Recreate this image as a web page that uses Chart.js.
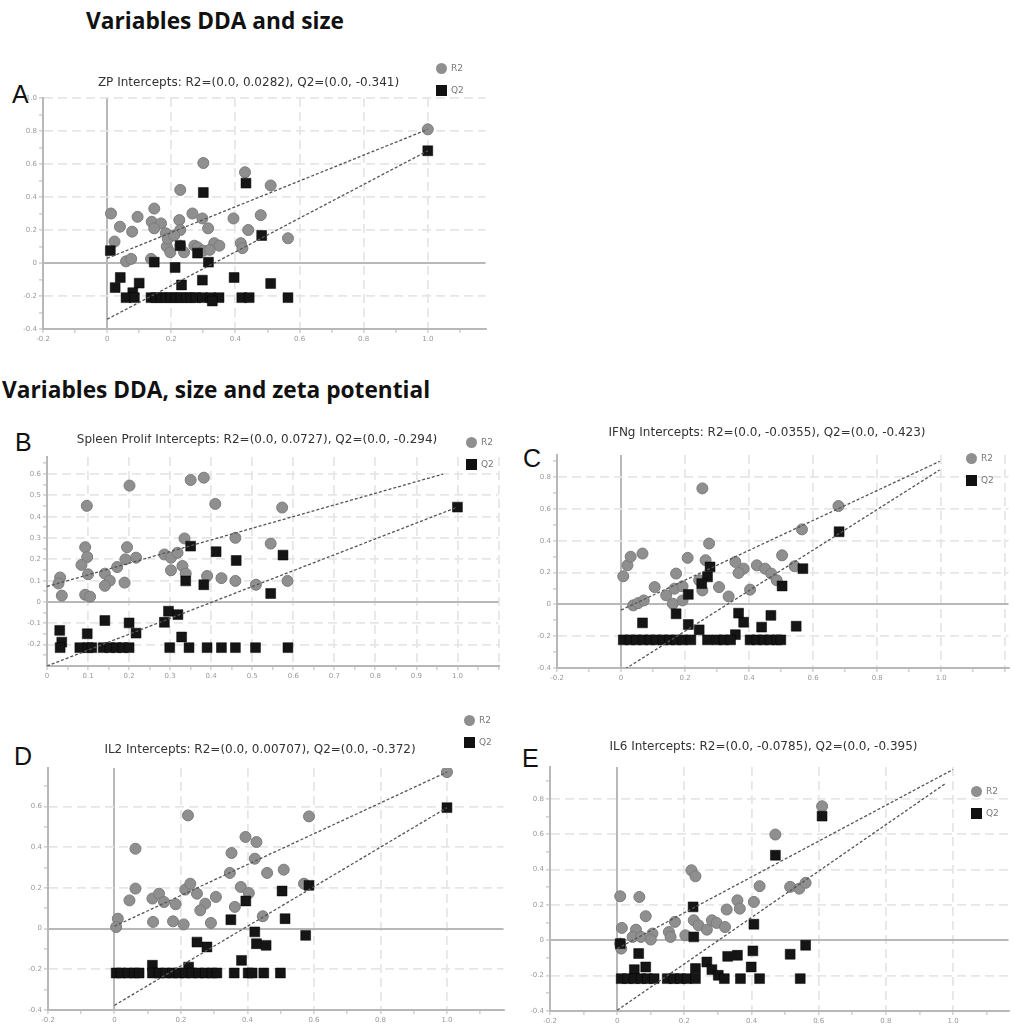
<!DOCTYPE html>
<html>
<head>
<meta charset="utf-8">
<script src="https://cdn.jsdelivr.net/npm/chart.js@4.4.0/dist/chart.umd.min.js"></script>
<style>
  body { margin: 0; width: 1016px; height: 1032px; position: relative; overflow: hidden; background: #fff; font-family: 'DejaVu Sans', sans-serif; }
  .section { position: absolute; font-family: 'Open Sans', sans-serif; font-weight: 700; font-size: 22.7px; color: #111; white-space: nowrap; line-height: 1.2; }
  .letter { position: absolute; font-family: 'Liberation Sans', sans-serif; font-size: 25px; color: #111; line-height: 1; }
  .panel { position: absolute; }
  .legend { position: absolute; font-size: 9px; color: #777; }
  .legend div { height: 22px; line-height: 22px; white-space: nowrap; }
  .legend span { display: inline-block; width: 11px; height: 11px; vertical-align: middle; margin-right: 4px; }
  .legend .dot { border-radius: 50%; background: #8f8f8f; }
  .legend .sq { background: #111; }
</style>
</head>
<body>

<div class="section" style="left:86px; top:7px;">Variables DDA and size</div>
<div class="section" style="left:2px; top:376px;">Variables DDA, size and zeta potential</div>

<div class="letter" style="left:12px; top:82px;">A</div>
<div class="letter" style="left:15px; top:430px;">B</div>
<div class="letter" style="left:523px; top:446px;">C</div>
<div class="letter" style="left:14px; top:744px;">D</div>
<div class="letter" style="left:522px; top:746px;">E</div>

<canvas id="cA" class="panel" width="486" height="268" style="left:7px; top:77px;"></canvas>
<canvas id="cB" class="panel" width="495" height="248" style="left:11px; top:434px;"></canvas>
<canvas id="cC" class="panel" width="495" height="257" style="left:521px; top:427px;"></canvas>
<canvas id="cD" class="panel" width="499" height="282" style="left:12px; top:744px;"></canvas>
<canvas id="cE" class="panel" width="502" height="286" style="left:514px; top:741px;"></canvas>

<div class="legend" style="left:436px; top:57px;"><div><span class="dot"></span>R2</div><div><span class="sq"></span>Q2</div></div>
<div class="legend" style="left:466px; top:431px;"><div><span class="dot"></span>R2</div><div><span class="sq"></span>Q2</div></div>
<div class="legend" style="left:966px; top:447px;"><div><span class="dot"></span>R2</div><div><span class="sq"></span>Q2</div></div>
<div class="legend" style="left:464px; top:709px;"><div><span class="dot"></span>R2</div><div><span class="sq"></span>Q2</div></div>
<div class="legend" style="left:971px; top:780px;"><div><span class="dot"></span>R2</div><div><span class="sq"></span>Q2</div></div>

<script>
// --- data: [x, y] pairs ---
const aR2 = [[1.0,0.81],[0.30,0.606],[0.43,0.55],[0.51,0.47],[0.228,0.443],[0.012,0.30],[0.04,0.22],[0.078,0.19],[0.095,0.28],[0.147,0.33],[0.139,0.25],[0.168,0.24],[0.147,0.21],[0.183,0.18],[0.225,0.26],[0.228,0.20],[0.266,0.30],[0.297,0.27],[0.315,0.21],[0.394,0.27],[0.479,0.29],[0.44,0.20],[0.417,0.12],[0.422,0.09],[0.564,0.15],[0.023,0.13],[0.059,0.01],[0.075,0.025],[0.137,0.025],[0.186,0.10],[0.197,0.065],[0.228,0.105],[0.24,0.065],[0.272,0.105],[0.282,0.095],[0.334,0.12],[0.35,0.105],[0.30,0.075],[0.32,0.08],[0.189,0.147],[0.209,0.167]];
const aQ2 = [[1.0,0.68],[0.30,0.427],[0.433,0.484],[0.01,0.075],[0.228,0.105],[0.282,0.06],[0.147,0.005],[0.316,0.005],[0.212,-0.027],[0.482,0.167],[0.041,-0.088],[0.025,-0.149],[0.10,-0.122],[0.232,-0.133],[0.297,-0.104],[0.396,-0.088],[0.51,-0.124],[0.08,-0.18],[0.059,-0.21],[0.085,-0.21],[0.137,-0.21],[0.152,-0.21],[0.168,-0.21],[0.183,-0.21],[0.199,-0.21],[0.214,-0.21],[0.23,-0.21],[0.246,-0.21],[0.261,-0.21],[0.277,-0.21],[0.297,-0.21],[0.323,-0.21],[0.349,-0.21],[0.42,-0.21],[0.443,-0.21],[0.564,-0.21],[0.328,-0.23]];
const aR2Line = [[0,0.0282],[1,0.81]];
const aQ2Line = [[0,-0.341],[1,0.68]];

const bR2 = [[0.097,0.451],[0.201,0.546],[0.35,0.572],[0.382,0.583],[0.41,0.46],[0.573,0.443],[0.335,0.298],[0.459,0.301],[0.545,0.274],[0.093,0.257],[0.098,0.211],[0.195,0.257],[0.191,0.20],[0.217,0.208],[0.084,0.174],[0.10,0.13],[0.141,0.133],[0.153,0.10],[0.141,0.076],[0.171,0.164],[0.189,0.091],[0.032,0.115],[0.028,0.087],[0.036,0.03],[0.093,0.034],[0.105,0.025],[0.286,0.223],[0.302,0.208],[0.318,0.231],[0.302,0.149],[0.33,0.169],[0.338,0.133],[0.39,0.122],[0.425,0.112],[0.459,0.099],[0.509,0.081],[0.586,0.099]];
const bQ2 = [[1.0,0.445],[0.35,0.262],[0.412,0.236],[0.575,0.22],[0.461,0.195],[0.338,0.099],[0.382,0.081],[0.545,0.04],[0.296,-0.043],[0.319,-0.059],[0.286,-0.095],[0.141,-0.087],[0.2,-0.098],[0.217,-0.146],[0.031,-0.133],[0.098,-0.149],[0.328,-0.164],[0.036,-0.188],[0.032,-0.214],[0.08,-0.214],[0.10,-0.214],[0.109,-0.214],[0.137,-0.214],[0.153,-0.214],[0.169,-0.214],[0.185,-0.214],[0.2,-0.214],[0.299,-0.214],[0.346,-0.214],[0.39,-0.214],[0.425,-0.214],[0.459,-0.214],[0.508,-0.214],[0.587,-0.214]];
const bR2Line = [[0,0.0727],[0.965,0.6]];
const bQ2Line = [[0,-0.3],[1,0.445]];

const cR2 = [[0.254,0.73],[0.679,0.619],[0.565,0.472],[0.275,0.383],[0.007,0.177],[0.02,0.246],[0.03,0.30],[0.067,0.32],[0.208,0.293],[0.264,0.278],[0.357,0.267],[0.383,0.225],[0.367,0.198],[0.424,0.246],[0.45,0.225],[0.469,0.194],[0.503,0.309],[0.542,0.24],[0.172,0.194],[0.105,0.109],[0.141,0.057],[0.167,0.099],[0.192,0.114],[0.162,0.004],[0.192,0.025],[0.254,0.088],[0.306,0.109],[0.336,0.05],[0.403,0.093],[0.486,0.152],[0.038,-0.006],[0.053,0.008],[0.071,0.025],[0.244,0.152]];
const cQ2 = [[0.681,0.457],[0.568,0.225],[0.278,0.236],[0.27,0.173],[0.252,0.131],[0.21,0.063],[0.503,0.116],[0.172,-0.059],[0.367,-0.055],[0.383,-0.112],[0.468,-0.069],[0.439,-0.143],[0.547,-0.137],[0.067,-0.116],[0.21,-0.126],[0.244,-0.16],[0.357,-0.19],[0.007,-0.223],[0.028,-0.223],[0.048,-0.223],[0.069,-0.223],[0.09,-0.223],[0.11,-0.223],[0.131,-0.223],[0.151,-0.223],[0.172,-0.223],[0.192,-0.223],[0.218,-0.223],[0.27,-0.223],[0.30,-0.223],[0.321,-0.223],[0.342,-0.223],[0.403,-0.223],[0.424,-0.223],[0.445,-0.223],[0.465,-0.223],[0.486,-0.223],[0.499,-0.223]];
const cR2Line = [[0,-0.0355],[0.995,0.9]];
const cQ2Line = [[0,-0.423],[0.995,0.846]];

const dR2 = [[1.0,0.77],[0.221,0.557],[0.585,0.552],[0.063,0.393],[0.394,0.451],[0.427,0.426],[0.352,0.372],[0.422,0.344],[0.347,0.274],[0.459,0.274],[0.509,0.29],[0.063,0.197],[0.045,0.139],[0.114,0.148],[0.134,0.172],[0.149,0.131],[0.184,0.12],[0.213,0.192],[0.228,0.221],[0.248,0.172],[0.273,0.123],[0.258,0.09],[0.305,0.156],[0.38,0.205],[0.404,0.175],[0.362,0.107],[0.57,0.221],[0.446,0.061],[0.01,0.049],[0.005,0.008],[0.116,0.033],[0.176,0.036],[0.208,0.021],[0.29,0.028]];
const dQ2 = [[1.0,0.595],[0.585,0.213],[0.504,0.185],[0.395,0.136],[0.35,0.044],[0.513,0.049],[0.422,-0.016],[0.575,-0.033],[0.248,-0.066],[0.278,-0.09],[0.427,-0.074],[0.456,-0.082],[0.382,-0.156],[0.114,-0.18],[0.223,-0.189],[0.005,-0.218],[0.02,-0.218],[0.04,-0.218],[0.06,-0.218],[0.074,-0.218],[0.114,-0.218],[0.134,-0.218],[0.154,-0.218],[0.174,-0.218],[0.193,-0.218],[0.213,-0.218],[0.233,-0.218],[0.253,-0.218],[0.273,-0.218],[0.293,-0.218],[0.308,-0.218],[0.36,-0.218],[0.402,-0.218],[0.414,-0.218],[0.449,-0.218],[0.499,-0.218]];
const dR2Line = [[0,0.012],[1,0.77]];
const dQ2Line = [[0,-0.377],[1,0.595]];

const eR2 = [[0.61,0.758],[0.471,0.598],[0.221,0.396],[0.233,0.362],[0.009,0.249],[0.066,0.245],[0.085,0.136],[0.014,0.07],[0.056,0.06],[0.046,0.019],[0.071,0.019],[0.105,0.038],[0.1,0.004],[0.154,0.047],[0.159,0.019],[0.172,0.104],[0.203,0.028],[0.228,0.113],[0.242,0.085],[0.267,0.06],[0.282,0.113],[0.296,0.098],[0.321,0.075],[0.326,0.174],[0.358,0.226],[0.365,0.179],[0.407,0.217],[0.424,0.306],[0.515,0.302],[0.542,0.292],[0.561,0.325],[0.009,-0.019],[0.012,-0.047]];
const eQ2 = [[0.61,0.702],[0.471,0.481],[0.226,0.189],[0.407,0.091],[0.228,0.019],[0.009,-0.019],[0.561,-0.028],[0.515,-0.079],[0.064,-0.075],[0.404,-0.06],[0.329,-0.091],[0.358,-0.085],[0.267,-0.123],[0.085,-0.151],[0.051,-0.166],[0.233,-0.16],[0.282,-0.166],[0.399,-0.151],[0.301,-0.198],[0.012,-0.217],[0.031,-0.217],[0.051,-0.217],[0.071,-0.217],[0.09,-0.217],[0.11,-0.217],[0.149,-0.217],[0.169,-0.217],[0.188,-0.217],[0.208,-0.217],[0.233,-0.217],[0.319,-0.217],[0.367,-0.217],[0.424,-0.217],[0.545,-0.217]];
const eR2Line = [[0,-0.047],[1,0.966]];
const eQ2Line = [[0,-0.396],[0.98,0.89]];

// titles
const titleA = 'ZP Intercepts: R2=(0.0, 0.0282), Q2=(0.0, -0.341)';
const titleB = 'Spleen Prolif Intercepts: R2=(0.0, 0.0727), Q2=(0.0, -0.294)';
const titleC = 'IFNg Intercepts: R2=(0.0, -0.0355), Q2=(0.0, -0.423)';
const titleD = 'IL2 Intercepts: R2=(0.0, 0.00707), Q2=(0.0, -0.372)';
const titleE = 'IL6 Intercepts: R2=(0.0, -0.0785), Q2=(0.0, -0.395)';

const toXY = arr => arr.map(p => ({ x: p[0], y: p[1] }));
const isMajor = (v, step) => Math.abs(v / step - Math.round(v / step)) < 1e-6;

function axis(min, max, major, labelMax, isX) {
    return {
        type: 'linear',
        min: min,
        max: max,
        afterFit: s => { if (isX) s.height = 16; else s.width = 36; },
        ticks: {
            stepSize: major / 2,
            includeBounds: false,
            autoSkip: false,
            maxRotation: 0,
            padding: 2,
            color: '#999',
            font: { family: 'DejaVu Sans', size: 7 },
            callback: v => (isMajor(v, major) && v <= labelMax + 1e-6) ? (Math.abs(v) < 1e-9 ? '0' : v.toFixed(1)) : ''
        },
        grid: {
            color: ctx => {
                if (!ctx.tick) return '#e6e6e6';
                const v = ctx.tick.value;
                if (Math.abs(v) < 1e-9) return '#b8b8b8';
                return isMajor(v, major) ? '#e6e6e6' : 'rgba(0,0,0,0)';
            },
            lineWidth: ctx => (ctx.tick && Math.abs(ctx.tick.value) < 1e-9) ? 2 : 1.8,
            tickColor: '#b8b8b8',
            tickLength: 4,
            tickWidth: 1
        },
        border: {
            display: true,
            color: '#b8b8b8',
            width: 2,
            dash: ctx => (ctx.tick && Math.abs(ctx.tick.value) < 1e-9) ? [] : [9, 5]
        }
    };
}

function makePanel(id, title, gap, r2, q2, r2Line, q2Line, xr, yr) {
    const ctx = document.getElementById(id).getContext('2d');
    new Chart(ctx, {
        type: 'scatter',
        data: {
            datasets: [
                { label: 'R2 line', data: toXY(r2Line), showLine: true, pointRadius: 0, borderColor: '#555', borderWidth: 1.3, borderDash: [3, 2], order: 0 },
                { label: 'Q2 line', data: toXY(q2Line), showLine: true, pointRadius: 0, borderColor: '#555', borderWidth: 1.3, borderDash: [3, 2], order: 0 },
                { label: 'Q2', data: toXY(q2), pointStyle: 'rect', pointRadius: 7, backgroundColor: '#151515', borderColor: '#000', borderWidth: 0.5, order: 1 },
                { label: 'R2', data: toXY(r2), pointStyle: 'circle', pointRadius: 5.5, backgroundColor: '#8f8f8f', borderColor: '#7b7b7b', borderWidth: 1, order: 2 }
            ]
        },
        options: {
            responsive: false,
            animation: false,
            layout: { padding: { left: 0, right: 3, top: 0, bottom: 0 } },
            plugins: {
                legend: { display: false },
                tooltip: { enabled: false },
                title: {
                    display: true,
                    text: title,
                    color: '#333',
                    font: { family: 'DejaVu Sans', size: 12, weight: 'normal', lineHeight: 1 },
                    padding: { top: 0, bottom: gap - 6 }
                }
            },
            scales: {
                x: axis(xr[0], xr[1], xr[2], 1.0, true),
                y: axis(yr[0], yr[1], yr[2], 10, false)
            }
        }
    });
}

document.addEventListener('DOMContentLoaded', function() {
    makePanel('cA', titleA, 15, aR2, aQ2, aR2Line, aQ2Line, [-0.2, 1.18, 0.2], [-0.4, 1.0, 0.2]);
    makePanel('cB', titleB, 17, bR2, bQ2, bR2Line, bQ2Line, [0, 1.1, 0.1], [-0.3, 0.68, 0.1]);
    makePanel('cC', titleC, 22, cR2, cQ2, cR2Line, cQ2Line, [-0.2, 1.21, 0.2], [-0.4, 0.94, 0.2]);
    makePanel('cD', titleD, 18, dR2, dQ2, dR2Line, dQ2Line, [-0.2, 1.17, 0.2], [-0.4, 0.79, 0.2]);
    makePanel('cE', titleE, 20, eR2, eQ2, eR2Line, eQ2Line, [-0.2, 1.165, 0.2], [-0.4, 0.98, 0.2]);
});
</script>
</body>
</html>
